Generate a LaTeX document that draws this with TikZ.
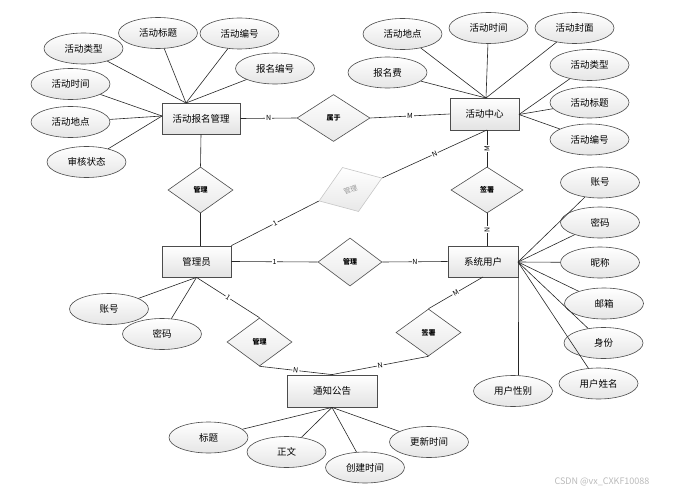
\documentclass[tikz,border=0pt]{standalone}
\usepackage{fontspec}
\setmainfont{Noto Sans CJK SC}
\usetikzlibrary{shapes.geometric,shadows}
\begin{document}
\begin{tikzpicture}[x=1pt,y=-1pt,
 ent/.style={rectangle,draw=gray!60!black,line width=0.8pt,top color=white,bottom color=gray!22,minimum width=#1,minimum height=31pt,inner sep=0pt,font=\fontsize{9.5}{10}\selectfont,drop shadow={shadow xshift=1pt,shadow yshift=-1pt,opacity=0.25}},
 attr/.style={ellipse,draw=gray!60!black,line width=0.6pt,top color=white,bottom color=gray!20,minimum width=79pt,minimum height=31pt,inner sep=0pt,font=\fontsize{9.5}{10}\selectfont},
 rel/.style={diamond,draw=gray!60!black,line width=0.6pt,top color=white,bottom color=gray!18,minimum width=65pt,minimum height=46pt,inner sep=0pt,font=\fontsize{7}{8}\selectfont\bfseries},
 lbl/.style={fill=white,inner sep=0.8pt,font=\fontsize{7}{8}\selectfont},
 ln/.style={draw=gray!30!black,line width=0.6pt}]
\useasboundingbox (0,0) rectangle (678,495);

% entities
\node[ent=78pt] (hbm) at (201,118.5) {活动报名管理};
\node[ent=69pt,minimum height=32pt] (hzx) at (484.5,114) {活动中心};
\node[ent=69pt] (gly) at (196.5,261.5) {管理员};
\node[ent=70pt] (yh) at (483,261.5) {系统用户};
\node[ent=90pt,minimum height=32pt] (tz) at (332,391) {通知公告};

% relations
\node[rel,minimum width=73pt,minimum height=47pt] (sy) at (333.5,118) {属于};
\node[rel] (gl1) at (200.5,190) {管理};
\node[rel,minimum width=64pt,minimum height=48pt] (gl2) at (350,262) {管理};
\node[rel,minimum width=72pt] (qs1) at (487,190) {签署};
\node[rel,minimum height=47pt] (qs2) at (428.5,332.5) {签署};
\node[rel,minimum height=48pt] (gl3) at (259.5,342) {管理};
\node[rel,rotate=20,minimum width=67pt,minimum height=47pt,draw=gray!45,text=gray!80,font=\fontsize{7}{8}\selectfont] (gl0) at (350.5,189.5) {管理};

% attributes of 活动报名管理
\node[attr] (a1) at (83.5,48.5) {活动类型};
\node[attr] (a2) at (158,33) {活动标题};
\node[attr] (a3) at (239.5,33.5) {活动编号};
\node[attr] (a4) at (275,68.5) {报名编号};
\node[attr] (a5) at (70.5,84) {活动时间};
\node[attr] (a6) at (70.5,122) {活动地点};
\node[attr] (a7) at (86.5,162) {审核状态};

% attributes of 活动中心
\node[attr] (b1) at (402.5,34) {活动地点};
\node[attr] (b2) at (488.5,28) {活动时间};
\node[attr] (b3) at (574.5,28) {活动封面};
\node[attr] (b4) at (387.5,72.5) {报名费};
\node[attr] (b5) at (589.5,65) {活动类型};
\node[attr] (b6) at (589.5,102.5) {活动标题};
\node[attr] (b7) at (589.5,139.5) {活动编号};

% attributes of 系统用户
\node[attr] (c1) at (600,182.5) {账号};
\node[attr] (c2) at (600,222.5) {密码};
\node[attr] (c3) at (600,262.5) {昵称};
\node[attr] (c4) at (604,303.5) {邮箱};
\node[attr] (c5) at (603.5,343) {身份};
\node[attr] (c6) at (598.5,383.5) {用户姓名};
\node[attr] (c7) at (513,391) {用户性别};

% attributes of 管理员
\node[attr] (d1) at (109,309) {账号};
\node[attr] (d2) at (162,334) {密码};

% attributes of 通知公告
\node[attr] (e1) at (208.5,437.5) {标题};
\node[attr] (e2) at (286.5,452) {正文};
\node[attr] (e3) at (365,467.5) {创建时间};
\node[attr] (e4) at (429,442) {更新时间};

% convergence points
\coordinate (hbmT) at (186,103);
\coordinate (hbmL) at (162,116);
\coordinate (hzxT) at (486,98);
\coordinate (hzxR) at (519,114.5);
\coordinate (hzxB) at (487,130);
\coordinate (yhR) at (518,262);
\coordinate (yhB) at (483,277);
\coordinate (yhTop) at (487,246);
\coordinate (c7T) at (518.5,375.3);

% attribute lines
\foreach \n in {a1,a2,a3,a4} \draw[ln] (\n) -- (hbmT);
\foreach \n in {a5,a6,a7} \draw[ln] (\n) -- (hbmL);
\foreach \n in {b1,b2,b3,b4} \draw[ln] (\n) -- (hzxT);
\foreach \n in {b5,b6,b7} \draw[ln] (\n) -- (hzxR);
\foreach \n in {c1,c2,c3,c4,c5,c6} \draw[ln] (\n) -- (yhR);
\draw[ln] (yh.south east) -- (c7T);
\foreach \n in {d1,d2} \draw[ln] (\n) -- (gly.south);
\foreach \n in {e1,e2,e3,e4} \draw[ln] (\n) -- (tz.south);

% relationship lines
\draw[ln] (hbm.east) -- node[lbl] {N} (sy.west);
\draw[ln] (sy.east) -- node[lbl] {M} (hzx.west);
\draw[ln] (hbm.south) -- (gl1.north);
\draw[ln] (gl1.south) -- (gl1.south |- gly.north);
\draw[ln] (gly.north east) -- node[lbl,sloped] {1} (gl0.west);
\draw[ln] (gl0.east) -- node[lbl,sloped] {N} (hzxB);
\draw[ln] (qs1.north) -- node[lbl,sloped] {M} (hzxB);
\draw[ln] (yhTop) -- node[lbl,sloped] {N} (qs1.south);
\draw[ln] (gly.east) -- node[lbl] {1} (gl2.west);
\draw[ln] (gl2.east) -- node[lbl] {N} (yh.west);
\draw[ln] (qs2.north) -- node[lbl,sloped] {M} (yhB);
\draw[ln] (tz.north) -- node[lbl,sloped] {N} (qs2.south);
\draw[ln] (gly.south) -- node[lbl,sloped] {1} (gl3.north);
\draw[ln] (gl3.south) -- node[lbl,sloped] {N} (tz.north);

% watermark
\node[font=\fontsize{9}{10}\selectfont,text=gray!55] (wm) at (602,482) {CSDN @vx\_CXKF10088};
\end{tikzpicture}
\end{document}
